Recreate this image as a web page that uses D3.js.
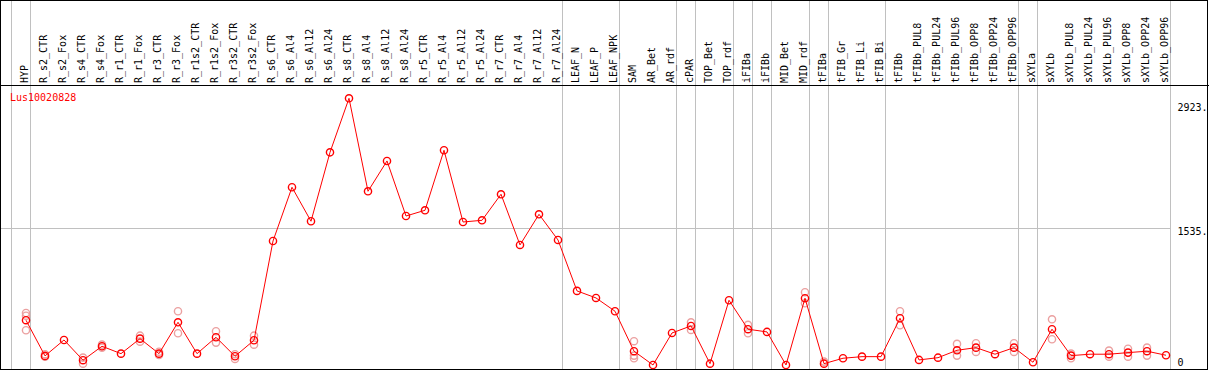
<!DOCTYPE html>
<html>
<head>
<meta charset="utf-8">
<script src="https://cdn.jsdelivr.net/npm/d3@7"></script>
<style>
  body { margin: 0; background: #fff; }
  text { font-family: "DejaVu Sans Mono", monospace; font-size: 10px; }
</style>
</head>
<body>
<script>
const width = 1209;
const height = 370;

const geneName = "Lus10020828";

const categories = [
  "HYP", "R_s2_CTR", "R_s2_Fox", "R_s4_CTR", "R_s4_Fox", "R_r1_CTR", "R_r1_Fox",
  "R_r3_CTR", "R_r3_Fox", "R_r1s2_CTR", "R_r1s2_Fox", "R_r3s2_CTR", "R_r3s2_Fox",
  "R_s6_CTR", "R_s6_Al4", "R_s6_Al12", "R_s6_Al24", "R_s8_CTR", "R_s8_Al4",
  "R_s8_Al12", "R_s8_Al24", "R_r5_CTR", "R_r5_Al4", "R_r5_Al12", "R_r5_Al24",
  "R_r7_CTR", "R_r7_Al4", "R_r7_Al12", "R_r7_Al24", "LEAF_N", "LEAF_P", "LEAF_NPK",
  "SAM", "AR_Bet", "AR_rdf", "cPAR", "TOP_Bet", "TOP_rdf", "iFIBa", "iFIBb",
  "MID_Bet", "MID_rdf", "tFIBa", "tFIB_Gr", "tFIB_Li", "tFIB_Bi", "tFIBb",
  "tFIBb_PUL8", "tFIBb_PUL24", "tFIBb_PUL96", "tFIBb_OPP8", "tFIBb_OPP24", "tFIBb_OPP96",
  "sXYLa", "sXYLb", "sXYLb_PUL8", "sXYLb_PUL24", "sXYLb_PUL96", "sXYLb_OPP8",
  "sXYLb_OPP24", "sXYLb_OPP96"
];

// mean expression per sample
const means = [
  553, 172, 342, 126, 275, 196, 356, 196, 531, 196, 371, 168, 339,
  1399, 1973, 1610, 2346, 2923, 1930, 2254, 1666, 1727, 2368, 1602, 1620, 1898, 1357, 1684, 1410,
  866, 791, 649, 222, 75, 417, 492, 89, 766, 457, 428, 75,
  788, 89, 147, 164, 164, 574, 129, 153, 232, 260, 190, 260,
  104, 457, 175, 190, 190, 207, 222, 179
];

// individual replicates (only where they stand out from the mean)
const replicates = [
  [630, 601, 446], [190, 164], [], [154, 89], [292, 260], [], [388, 324],
  [217, 182], [649, 414], [], [435, 314], [190, 140], [388, 292],
  [], [], [], [], [], [], [], [], [], [], [], [], [], [], [], [],
  [], [], [], [329, 175, 147], [], [], [531, 449], [], [], [503, 414], [], [],
  [852, 734], [111], [], [], [], [649, 499], [], [], [300, 175], [307, 214], [], [307, 214],
  [], [563, 350], [196, 147], [], [228, 164], [249, 164], [260, 175], []
];

// first sample of each group -> grey separator
const groupStarts = [
  "HYP", "R_s2_CTR", "LEAF_N", "SAM", "cPAR", "TOP_Bet", "iFIBa", "iFIBb",
  "MID_Bet", "tFIBa", "tFIB_Gr", "tFIBb", "sXYLa", "sXYLb"
];

const yTicks = [2923, 1535, 0];

const headerH = 85;
const bottom = 369;

const x = d3.scaleBand()
  .domain(categories)
  .range([11.5, 11.5 + 19 * categories.length]);
const px = d => x(d) + 14.5;

const y = d3.scaleLinear()
  .domain([0, 2923])
  .range([372, 98.3]);

const svg = d3.select("body").append("svg")
  .attr("width", width)
  .attr("height", height);

svg.append("rect")
  .attr("width", width).attr("height", height).attr("fill", "#fff");

const xEnd = x.range()[1];

// grey grid
svg.append("line")
  .attr("x1", 0).attr("x2", xEnd)
  .attr("y1", Math.round(y(1535)) + 0.5).attr("y2", Math.round(y(1535)) + 0.5)
  .attr("stroke", "#c0c0c0");

svg.append("g")
  .selectAll("line")
  .data(groupStarts.map(c => x(c)).concat([xEnd]))
  .enter().append("line")
  .attr("x1", d => Math.round(d) - 0.5).attr("x2", d => Math.round(d) - 0.5)
  .attr("y1", 0).attr("y2", height)
  .attr("stroke", "#c0c0c0");

// frame
const frame = svg.append("g").attr("stroke", "#000").attr("fill", "none");
frame.append("rect").attr("x", 0.5).attr("y", 0.5).attr("width", width - 2).attr("height", bottom);
frame.append("line").attr("x1", 0).attr("x2", width).attr("y1", headerH + 0.5).attr("y2", headerH + 0.5);

// column labels
svg.append("g")
  .selectAll("text")
  .data(categories)
  .enter().append("text")
  .attr("transform", d => `translate(${px(d) + 2}, 83) rotate(-90)`)
  .attr("fill", "#000")
  .text(d => d);

// y labels
svg.append("g")
  .selectAll("text")
  .data(yTicks)
  .enter().append("text")
  .attr("x", xEnd + 7)
  .attr("y", d => Math.min(Math.max(y(d) + 7, 110.5), 365.5))
  .attr("fill", "#000")
  .text(d => d === 0 ? "0" : d + ".");

svg.append("text")
  .attr("x", 10).attr("y", 101)
  .attr("fill", "#f00")
  .text(geneName);

// replicate points
const reps = [];
replicates.forEach((r, i) => r.forEach(v => reps.push({ c: categories[i], v })));
svg.append("g")
  .selectAll("circle")
  .data(reps)
  .enter().append("circle")
  .attr("cx", d => px(d.c))
  .attr("cy", d => y(d.v))
  .attr("r", 3.6)
  .attr("fill", "none")
  .attr("stroke", "#eba0a0")
  .attr("stroke-width", 1.4);

// mean line
const line = d3.line()
  .x((d, i) => px(categories[i]))
  .y(d => y(d));

svg.append("path")
  .attr("d", line(means))
  .attr("fill", "none")
  .attr("stroke", "#f00")
  .attr("stroke-width", 1);

svg.append("g")
  .selectAll("circle")
  .data(means)
  .enter().append("circle")
  .attr("cx", (d, i) => px(categories[i]))
  .attr("cy", d => y(d))
  .attr("r", 3.6)
  .attr("fill", "none")
  .attr("stroke", "#f00")
  .attr("stroke-width", 1.4);
</script>
</body>
</html>
